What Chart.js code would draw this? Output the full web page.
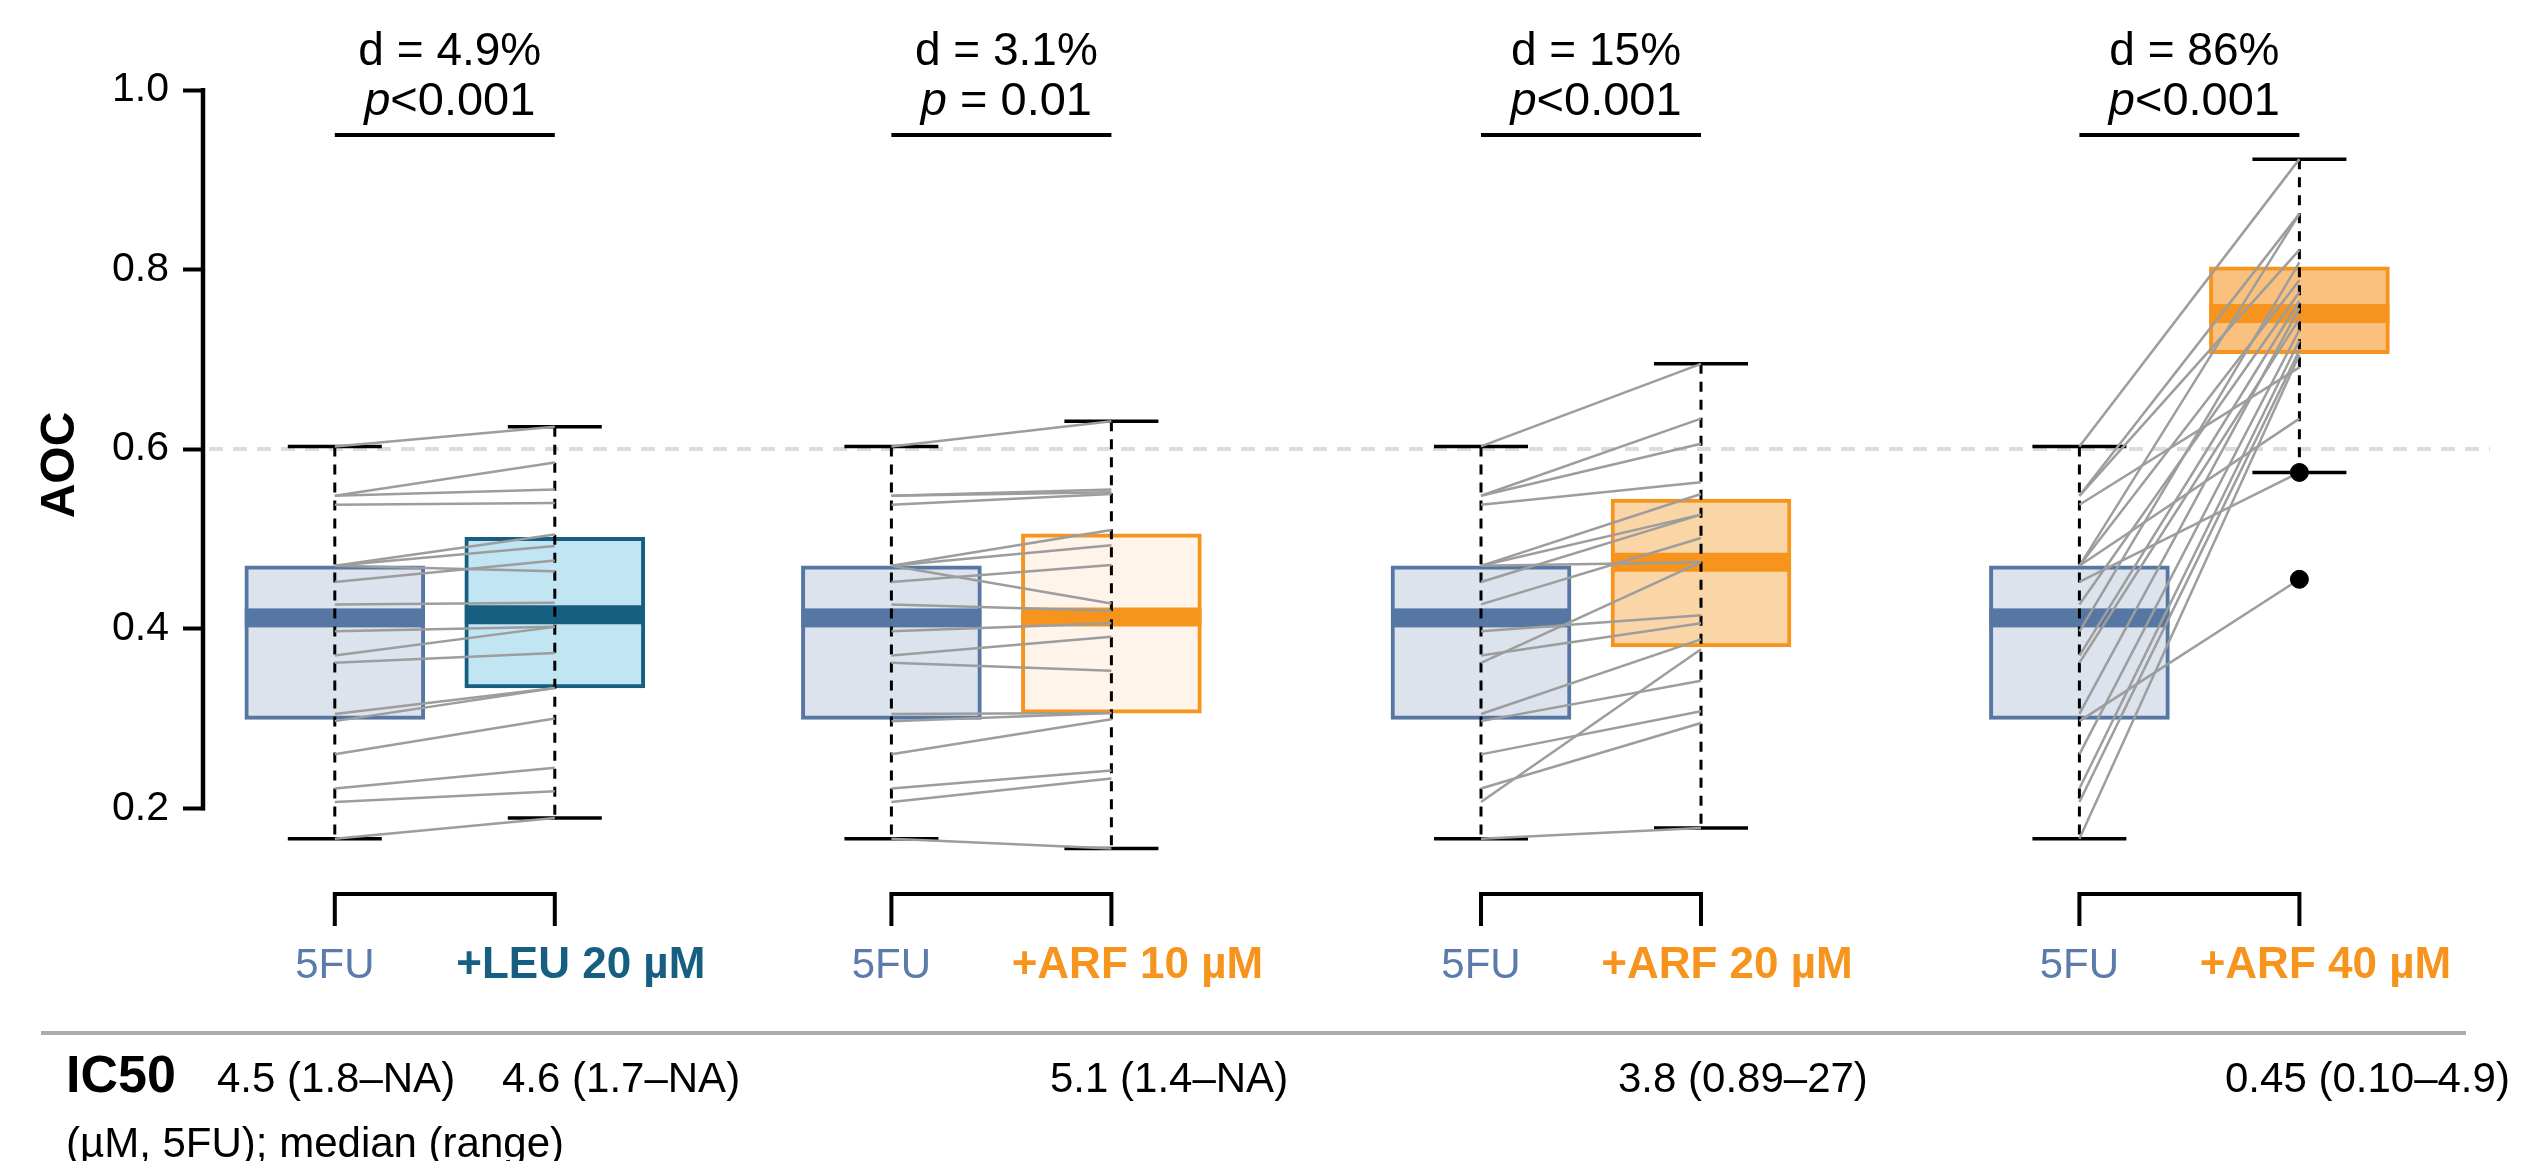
<!DOCTYPE html>
<html>
<head>
<meta charset="utf-8">
<script src="https://cdn.jsdelivr.net/npm/chart.js@4.4.1/dist/chart.umd.min.js"></script>
<style>
html, body { margin: 0; padding: 0; background: #fff; }
</style>
</head>
<body>
<canvas id="chart" width="2526" height="1161"></canvas>
<script>
// AOC per sample with 5FU alone (same samples in every panel)
var base5FU = [0.603, 0.548, 0.548, 0.538, 0.470, 0.470, 0.470, 0.452, 0.427, 0.397, 0.370, 0.362, 0.305, 0.297, 0.260, 0.222, 0.207, 0.166];
// paired AOC with the combination, same sample order as base5FU
var leu20 = [0.625, 0.585, 0.555, 0.540, 0.505, 0.492, 0.464, 0.476, 0.429, 0.402, 0.402, 0.373, 0.334, 0.334, 0.300, 0.245, 0.219, 0.189];
var arf10 = [0.631, 0.555, 0.552, 0.550, 0.510, 0.493, 0.428, 0.471, 0.420, 0.406, 0.391, 0.353, 0.306, 0.306, 0.299, 0.242, 0.233, 0.155];
var arf20 = [0.695, 0.634, 0.606, 0.563, 0.550, 0.527, 0.474, 0.527, 0.501, 0.415, 0.406, 0.474, 0.388, 0.342, 0.308, 0.295, 0.377, 0.178];
var arf40 = [0.923, 0.862, 0.822, 0.691, 0.862, 0.788, 0.634, 0.574, 0.775, 0.808, 0.765, 0.745, 0.757, 0.455, 0.733, 0.721, 0.710, 0.705];
var arf40Dots = [0.574, 0.455];

var baseName = '5FU';
var comboNames = ['+LEU 20 µM', '+ARF 10 µM', '+ARF 20 µM', '+ARF 40 µM'];
var diffLabels = ['d = 4.9%', 'd = 3.1%', 'd = 15%', 'd = 86%'];
var pLabels = ['<0.001', ' = 0.01', '<0.001', '<0.001'];
var ic50Labels = ['4.5 (1.8–NA)', '4.6 (1.7–NA)', '5.1 (1.4–NA)', '3.8 (0.89–27)', '0.45 (0.10–4.9)'];
var yTicks = [0.2, 0.4, 0.6, 0.8, 1.0];
var threshold = 0.6;

// layout / style
var FONT = '"Liberation Sans", Arial, sans-serif';
var groupX = [0.59, 3.12, 5.80, 8.52];
var combos = [leu20, arf10, arf20, arf40];
var baseStyle = {fill: '#dce3ec', border: '#5676a3', label: '#5b7bab'};
var comboStyles = [
    {fill: '#c2e5f4', border: '#165f80', label: '#165f80'},
    {fill: '#fef4e9', border: '#f7941e', label: '#f7941e'},
    {fill: '#fad6a7', border: '#f7941e', label: '#f7941e'},
    {fill: '#f9c17d', border: '#f7941e', label: '#f7941e'}
];
var ic50X = [217, 502, 1050, 1618, 2225];

function quantile(arr, q) {
    var s = arr.slice().sort(function(a, b) { return a - b; });
    var pos = (s.length - 1) * q, lo = Math.floor(pos), hi = Math.ceil(pos);
    return s[lo] + (s[hi] - s[lo]) * (pos - lo);
}
function boxStats(arr) {
    var q1 = quantile(arr, 0.25), q3 = quantile(arr, 0.75), iqr = q3 - q1;
    var inside = arr.filter(function(v) { return v >= q1 - 1.5 * iqr && v <= q3 + 1.5 * iqr; });
    return {q1: q1, q3: q3, med: quantile(arr, 0.5),
        lo: Math.min.apply(null, inside), hi: Math.max.apply(null, inside)};
}

var boxes = [];
groupX.forEach(function(gx, g) {
    boxes.push({x: gx, stats: boxStats(base5FU), style: baseStyle});
    boxes.push({x: gx + 1, stats: boxStats(combos[g]), style: comboStyles[g]});
});

var datasets = [{
    type: 'bar',
    data: boxes.map(function(b) { return {x: b.x, y: [b.stats.q1, b.stats.q3]}; }),
    backgroundColor: boxes.map(function(b) { return b.style.fill; }),
    borderColor: boxes.map(function(b) { return b.style.border; }),
    borderWidth: 4,
    borderSkipped: false,
    barThickness: 180,
    grouped: false,
    order: 3
}];
groupX.forEach(function(gx, g) {
    base5FU.forEach(function(v, i) {
        datasets.push({
            type: 'line',
            data: [{x: gx, y: v}, {x: gx + 1, y: combos[g][i]}],
            borderColor: '#9d9d9d',
            borderWidth: 2.5,
            pointRadius: 0,
            order: 1
        });
    });
});
datasets.push({
    type: 'scatter',
    data: arf40Dots.map(function(v) { return {x: groupX[3] + 1, y: v}; }),
    backgroundColor: '#000',
    borderColor: '#000',
    pointRadius: 9,
    order: 0
});

var boxPlugin = {
    id: 'boxPlugin',
    beforeDatasetsDraw: function(chart) {
        var ctx = chart.ctx, y = chart.scales.y, a = chart.chartArea;
        ctx.save();
        ctx.strokeStyle = '#dcdcdc';
        ctx.lineWidth = 4;
        ctx.setLineDash([14, 10]);
        ctx.beginPath();
        ctx.moveTo(a.left + 4, y.getPixelForValue(threshold));
        ctx.lineTo(a.right - 3, y.getPixelForValue(threshold));
        ctx.stroke();
        ctx.restore();
    },
    afterDatasetDraw: function(chart, args) {
        if (args.meta.type !== 'bar') return;
        var ctx = chart.ctx, xs = chart.scales.x, ys = chart.scales.y;
        ctx.save();
        boxes.forEach(function(b) {
            var cx = xs.getPixelForValue(b.x);
            var s = b.stats;
            ctx.fillStyle = b.style.border;
            ctx.fillRect(cx - 90, ys.getPixelForValue(s.med) - 9.5, 180, 19);
            ctx.strokeStyle = '#000';
            ctx.lineWidth = 3;
            ctx.setLineDash([10, 8]);
            ctx.beginPath();
            ctx.moveTo(cx, ys.getPixelForValue(s.hi));
            ctx.lineTo(cx, ys.getPixelForValue(s.lo));
            ctx.stroke();
            ctx.setLineDash([]);
            ctx.lineWidth = 3.5;
            [s.hi, s.lo].forEach(function(v) {
                var py = ys.getPixelForValue(v);
                ctx.beginPath();
                ctx.moveTo(cx - 47, py);
                ctx.lineTo(cx + 47, py);
                ctx.stroke();
            });
        });
        ctx.restore();
    },
    afterDraw: function(chart) {
        var ctx = chart.ctx, xs = chart.scales.x, ys = chart.scales.y, a = chart.chartArea;
        ctx.save();
        // axis spine
        ctx.strokeStyle = '#000';
        ctx.lineWidth = 4.5;
        ctx.beginPath();
        ctx.moveTo(a.left - 2, ys.getPixelForValue(yTicks[0]) + 2);
        ctx.lineTo(a.left - 2, ys.getPixelForValue(yTicks[yTicks.length - 1]) - 2);
        ctx.stroke();

        // axis title
        ctx.save();
        ctx.translate(61, 465);
        ctx.rotate(-Math.PI / 2);
        ctx.font = 'bold 48px ' + FONT;
        ctx.fillStyle = '#000';
        ctx.textAlign = 'center';
        ctx.textBaseline = 'middle';
        ctx.fillText('AOC', 0, 0);
        ctx.restore();

        groupX.forEach(function(gx, g) {
            var x1 = xs.getPixelForValue(gx), x2 = xs.getPixelForValue(gx + 1);
            var cx = (x1 + x2) / 2 + 5;
            ctx.fillStyle = '#000';
            ctx.textBaseline = 'alphabetic';
            ctx.font = '46px ' + FONT;
            ctx.textAlign = 'center';
            ctx.fillText(diffLabels[g], cx, 65);
            // p line: italic p + rest
            ctx.font = 'italic 47px ' + FONT;
            var wp = ctx.measureText('p').width;
            ctx.font = '47px ' + FONT;
            var wr = ctx.measureText(pLabels[g]).width;
            var sx = cx - (wp + wr) / 2;
            ctx.textAlign = 'left';
            ctx.font = 'italic 47px ' + FONT;
            ctx.fillText('p', sx, 115);
            ctx.font = '47px ' + FONT;
            ctx.fillText(pLabels[g], sx + wp, 115);
            // significance bar
            ctx.lineWidth = 4;
            ctx.beginPath();
            ctx.moveTo(x1, 135);
            ctx.lineTo(x2, 135);
            ctx.stroke();
            // bracket under the pair
            ctx.lineWidth = 4;
            ctx.lineJoin = 'miter';
            ctx.beginPath();
            ctx.moveTo(x1, 926);
            ctx.lineTo(x1, 894);
            ctx.lineTo(x2, 894);
            ctx.lineTo(x2, 926);
            ctx.stroke();
            // pair labels
            ctx.textAlign = 'center';
            ctx.font = '42px ' + FONT;
            ctx.fillStyle = baseStyle.label;
            ctx.fillText(baseName, x1, 978);
            ctx.font = 'bold 44px ' + FONT;
            ctx.fillStyle = comboStyles[g].label;
            ctx.fillText(comboNames[g], x2 + 26, 978);
        });

        // separator
        ctx.strokeStyle = '#acacac';
        ctx.lineWidth = 4;
        ctx.beginPath();
        ctx.moveTo(41, 1033);
        ctx.lineTo(2466, 1033);
        ctx.stroke();

        // IC50 row
        ctx.fillStyle = '#000';
        ctx.textAlign = 'left';
        ctx.font = 'bold 52px ' + FONT;
        ctx.fillText('IC50', 66, 1092);
        ctx.font = '42px ' + FONT;
        ic50Labels.forEach(function(t, i) { ctx.fillText(t, ic50X[i], 1092); });
        ctx.fillText('(µM, 5FU); median (range)', 66, 1157);
        ctx.restore();
    }
};

new Chart(document.getElementById('chart').getContext('2d'), {
    type: 'bar',
    data: {datasets: datasets},
    options: {
        responsive: false,
        animation: false,
        devicePixelRatio: 1,
        layout: {padding: {left: 0, right: 33, top: 90, bottom: 263}},
        plugins: {legend: {display: false}, tooltip: {enabled: false}},
        scales: {
            x: {type: 'linear', min: 0, max: 10.4, offset: false, display: false},
            y: {
                min: 0.1,
                max: 1.0,
                afterFit: function(s) { s.width = 205; },
                afterBuildTicks: function(s) { s.ticks = yTicks.map(function(v) { return {value: v}; }); },
                ticks: {
                    callback: function(v) { return v.toFixed(1); },
                    font: {size: 41, family: FONT},
                    color: '#000',
                    padding: 14
                },
                grid: {drawOnChartArea: false, tickLength: 22, tickWidth: 4, tickColor: '#000'},
                border: {display: false}
            }
        }
    },
    plugins: [boxPlugin]
});
</script>
</body>
</html>
